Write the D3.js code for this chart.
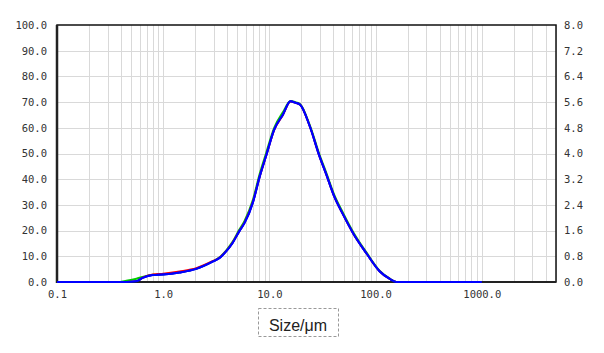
<!DOCTYPE html>
<html>
<head>
<meta charset="utf-8">
<script src="https://cdn.jsdelivr.net/npm/d3@7"></script>
<style>
  body { margin: 0; background: #fff; }
  .tick text { font-family: "DejaVu Sans Mono", monospace; font-size: 10.5px; fill: #333; }
</style>
</head>
<body>
<div id="container"></div>
<script>
/* CONSTANTS AND DATA */

const margin = {top: 25, right: 48, bottom: 71, left: 57}
const width = 604 - margin.left - margin.right
const height = 353 - margin.top - margin.bottom

// particle size (um)
const sizes = [0.1, 0.2, 0.3, 0.37, 0.45, 0.56, 0.64, 0.8, 1.0, 1.43, 2.05, 2.95, 3.4, 3.93, 4.5, 5.2, 5.84, 7.0, 8.1, 9.3, 11.1, 13.4, 15.8, 17.5, 19.5, 24, 29.6, 34.4, 40.8, 49.5, 61.2, 81.6, 109, 136, 157, 200, 500, 1000]
// three measurements (%)
const redVals   = [0, 0, 0, 0, 0, 0.3, 1.7, 2.9, 3.2, 4.1, 5.4, 8.2, 9.5, 12.1, 15.3, 19.8, 23.2, 31.2, 41, 49, 59.2, 65, 70.2, 69.8, 69, 60.6, 49, 41.8, 33.3, 26.2, 19.1, 11.3, 4.2, 1.2, 0, 0, 0, 0]
const greenVals = [0, 0, 0, 0, 0.5, 1.3, 2.0, 2.8, 3.0, 3.8, 5.2, 8.1, 9.6, 12.3, 15.6, 20.3, 23.8, 32, 42, 50, 60, 66, 70.4, 70, 69.2, 61, 49.6, 42.4, 33.9, 26.8, 19.6, 11.6, 4.4, 1.3, 0, 0, 0, 0]
const blueVals  = [0, 0, 0, 0, 0, 0.3, 1.6, 2.7, 2.9, 3.7, 5.1, 8.0, 9.4, 12.0, 15.2, 19.7, 23, 31, 41, 49, 59.3, 65.1, 70.3, 69.8, 69, 60.6, 49, 41.8, 33.3, 26.2, 19.1, 11.3, 4.2, 1.2, 0, 0, 0, 0]

const xTickVals = [0.1, 1, 10, 100, 1000]
const yTickVals = [0, 10, 20, 30, 40, 50, 60, 70, 80, 90, 100]
const y2TickVals = [0, 0.8, 1.6, 2.4, 3.2, 4.0, 4.8, 5.6, 6.4, 7.2, 8.0]
const xGridVals = []
for (const dec of [0.1, 1, 10, 100, 1000]) {
  for (let k = 1; k <= 9; k++) {
    const v = dec * k
    if (v <= 5000) xGridVals.push(v)
  }
}

const svg = d3.select("#container")
  .append("svg")
  .attr("width", 604)
  .attr("height", 353)
  .style("background-color", "white")

const g = svg.append("g")
  .attr("transform", `translate(${margin.left}, ${margin.top})`)

/* SCALES */
const xScale = d3.scaleLog()
  .domain([0.1, 5000])
  .range([0, width])

const yScale = d3.scaleLinear()
  .domain([0, 100])
  .range([height, 0])

const y2Scale = d3.scaleLinear()
  .domain([0, 8])
  .range([height, 0])

/* GRID */
g.append("g")
  .selectAll("line")
  .data(xGridVals.slice(1))
  .join("line")
  .attr("x1", d => Math.round(xScale(d)) + 0.5)
  .attr("x2", d => Math.round(xScale(d)) + 0.5)
  .attr("y1", 0)
  .attr("y2", height)
  .attr("stroke", "#d9d9d9")

g.append("g")
  .selectAll("line")
  .data(yTickVals.slice(1, -1))
  .join("line")
  .attr("x1", 0)
  .attr("x2", width)
  .attr("y1", d => Math.round(yScale(d)) + 0.5)
  .attr("y2", d => Math.round(yScale(d)) + 0.5)
  .attr("stroke", "#d9d9d9")

/* AXES */
const xAxis = g.append("g")
  .attr("transform", `translate(0, ${height})`)
  .call(d3.axisBottom(xScale).tickValues(xTickVals).tickSize(0).tickPadding(9)
    .tickFormat(d => d < 1 ? d3.format(".1f")(d) : d3.format(".1f")(d)))
xAxis.select(".domain").remove()

const yAxis = g.append("g")
  .call(d3.axisLeft(yScale).tickValues(yTickVals).tickSize(0).tickPadding(10)
    .tickFormat(d3.format(".1f")))
yAxis.select(".domain").remove()

const y2Axis = g.append("g")
  .attr("transform", `translate(${width}, 0)`)
  .call(d3.axisRight(y2Scale).tickValues(y2TickVals).tickSize(0).tickPadding(8)
    .tickFormat(d3.format(".1f")))
y2Axis.select(".domain").remove()

/* LINES */
const line = d3.line()
  .x((d, i) => xScale(sizes[i]))
  .y(d => yScale(d))
  .curve(d3.curveMonotoneX)

const series = [
  {vals: greenVals, color: "#00cc00"},
  {vals: redVals, color: "#ff0000"},
  {vals: blueVals, color: "#0000ff"}
]

g.selectAll(".series")
  .data(series)
  .join("path")
  .attr("class", "series")
  .attr("d", d => line(d.vals))
  .attr("fill", "none")
  .attr("stroke", d => d.color)
  .attr("stroke-width", 2)

/* FRAME */
g.append("rect")
  .attr("x", 0)
  .attr("y", 0)
  .attr("width", width)
  .attr("height", height)
  .attr("fill", "none")
  .attr("stroke", "#111")
  .attr("stroke-width", 1.5)

g.append("line")
  .attr("x1", 0).attr("x2", 0)
  .attr("y1", 0).attr("y2", height + 1)
  .attr("stroke", "#222")
  .attr("stroke-width", 2.5)

g.append("line")
  .attr("x1", 0).attr("x2", width)
  .attr("y1", height).attr("y2", height)
  .attr("stroke", "#222")
  .attr("stroke-width", 2)

// blue sits over the bottom border as in the original
g.append("path")
  .attr("d", line(blueVals))
  .attr("fill", "none")
  .attr("stroke", "#0000ff")
  .attr("stroke-width", 2)

/* AXIS TITLE */
const title = svg.append("text")
  .attr("x", 298)
  .attr("y", 331)
  .attr("text-anchor", "middle")
  .style("font-family", "'Liberation Sans', Arial, sans-serif")
  .style("font-size", "16px")
  .style("fill", "#222")
  .text("Size/μm")

svg.append("rect")
  .attr("x", 258.5)
  .attr("y", 308.5)
  .attr("width", 80)
  .attr("height", 28)
  .attr("fill", "none")
  .attr("stroke", "#999")
  .attr("stroke-dasharray", "3,2")
</script>
</body>
</html>
